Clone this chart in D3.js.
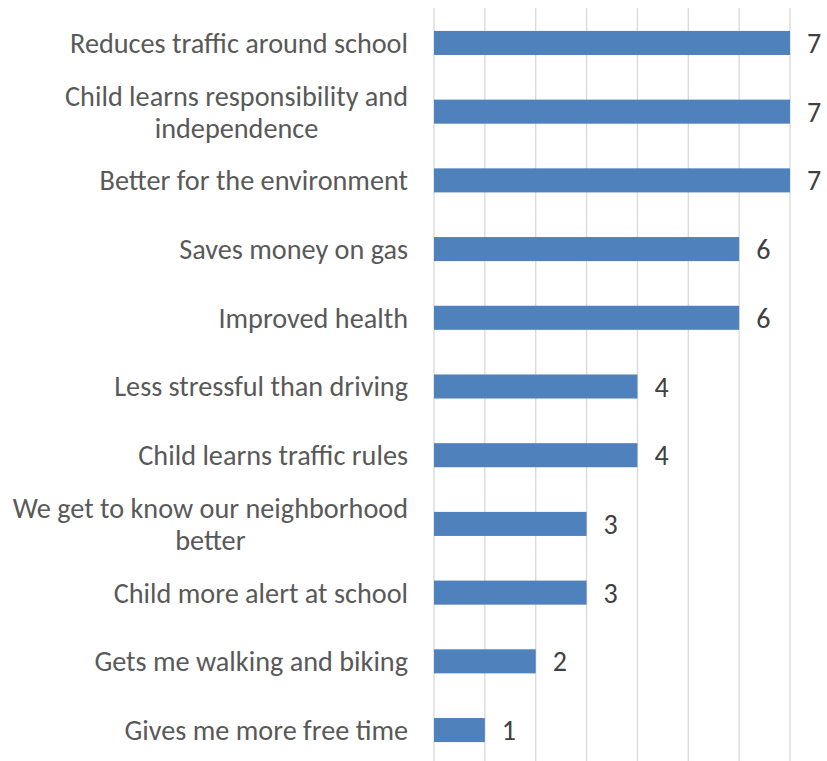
<!DOCTYPE html>
<html>
<head>
<meta charset="utf-8">
<script src="https://cdn.jsdelivr.net/npm/d3@7"></script>
<style>
  body { margin: 0; background: #fff; }
  svg { display: block; font-family: Calibri, Carlito, Lato, sans-serif; }
</style>
</head>
<body>
<svg id="chart" width="827" height="761"></svg>
<script>
'use strict';

// reasons, top to bottom, and the count for each
var reasons = [
    'Reduces traffic around school',
    'Child learns responsibility and independence',
    'Better for the environment',
    'Saves money on gas',
    'Improved health',
    'Less stressful than driving',
    'Child learns traffic rules',
    'We get to know our neighborhood better',
    'Child more alert at school',
    'Gets me walking and biking',
    'Gives me more free time'
];
var counts = [7, 7, 7, 6, 6, 4, 4, 3, 3, 2, 1];
var gridTicks = [0, 1, 2, 3, 4, 5, 6, 7];

var svg = d3.select('#chart');
var plotLeft = 434, plotRight = 790;
var plotTop = 8.6, plotBottom = 764.4;
var wrapWidth = 405;

var x = d3.scaleLinear()
    .domain([0, 7])
    .range([plotLeft, plotRight]);

var y = d3.scaleBand()
    .domain(reasons)
    .range([plotTop, plotBottom])
    .paddingInner(0.65)
    .paddingOuter(0.325);

// vertical gridlines
svg.append('g')
    .selectAll('line')
    .data(gridTicks)
    .enter().append('line')
    .attr('x1', function(d) { return x(d); })
    .attr('x2', function(d) { return x(d); })
    .attr('y1', 8)
    .attr('y2', 761)
    .style('stroke', '#d9d9d9')
    .style('stroke-width', 1.3);

// bars
svg.append('g')
    .selectAll('rect')
    .data(reasons)
    .enter().append('rect')
    .attr('x', x(0))
    .attr('y', function(d) { return y(d); })
    .attr('width', function(d, i) { return x(counts[i]) - x(0); })
    .attr('height', y.bandwidth())
    .attr('fill', '#4f81bd');

// value labels
svg.append('g')
    .selectAll('text')
    .data(reasons)
    .enter().append('text')
    .attr('x', function(d, i) { return x(counts[i]) + 17; })
    .attr('y', function(d) { return y(d) + y.bandwidth() / 2; })
    .attr('dy', '0.36em')
    .style('font-size', '28px')
    .style('fill', '#404040')
    .text(function(d, i) { return counts[i]; });

// category labels, wrapped and centred on each other, block right aligned
var measure = svg.append('text').style('font-size', '100px');
function textWidth(s) {
    measure.text(s);
    return measure.node().getComputedTextLength();
}
// size the font so the first label is as wide as in the reference
var labelSize = 100 * 338 / textWidth(reasons[0]);
measure.style('font-size', labelSize + 'px');

function wrapLabel(s) {
    var words = s.split(' ');
    var lines = [];
    var line = words[0];
    for (var i = 1; i < words.length; i++) {
        if (textWidth(line + ' ' + words[i]) > wrapWidth) {
            lines.push(line);
            line = words[i];
        } else {
            line += ' ' + words[i];
        }
    }
    lines.push(line);
    return lines;
}

var labelRight = 408;
var lineHeight = 32;

reasons.forEach(function(r) {
    var lines = wrapLabel(r);
    var widest = d3.max(lines, textWidth);
    var cx = labelRight - widest / 2;
    var cy = y(r) + y.bandwidth() / 2;
    var g = svg.append('text')
        .attr('text-anchor', 'middle')
        .style('font-size', labelSize + 'px')
        .style('fill', '#595959');
    lines.forEach(function(l, i) {
        g.append('tspan')
            .attr('x', cx)
            .attr('y', cy + (i - (lines.length - 1) / 2) * lineHeight)
            .attr('dy', '0.35em')
            .text(l);
    });
});
measure.remove();
</script>
</body>
</html>
